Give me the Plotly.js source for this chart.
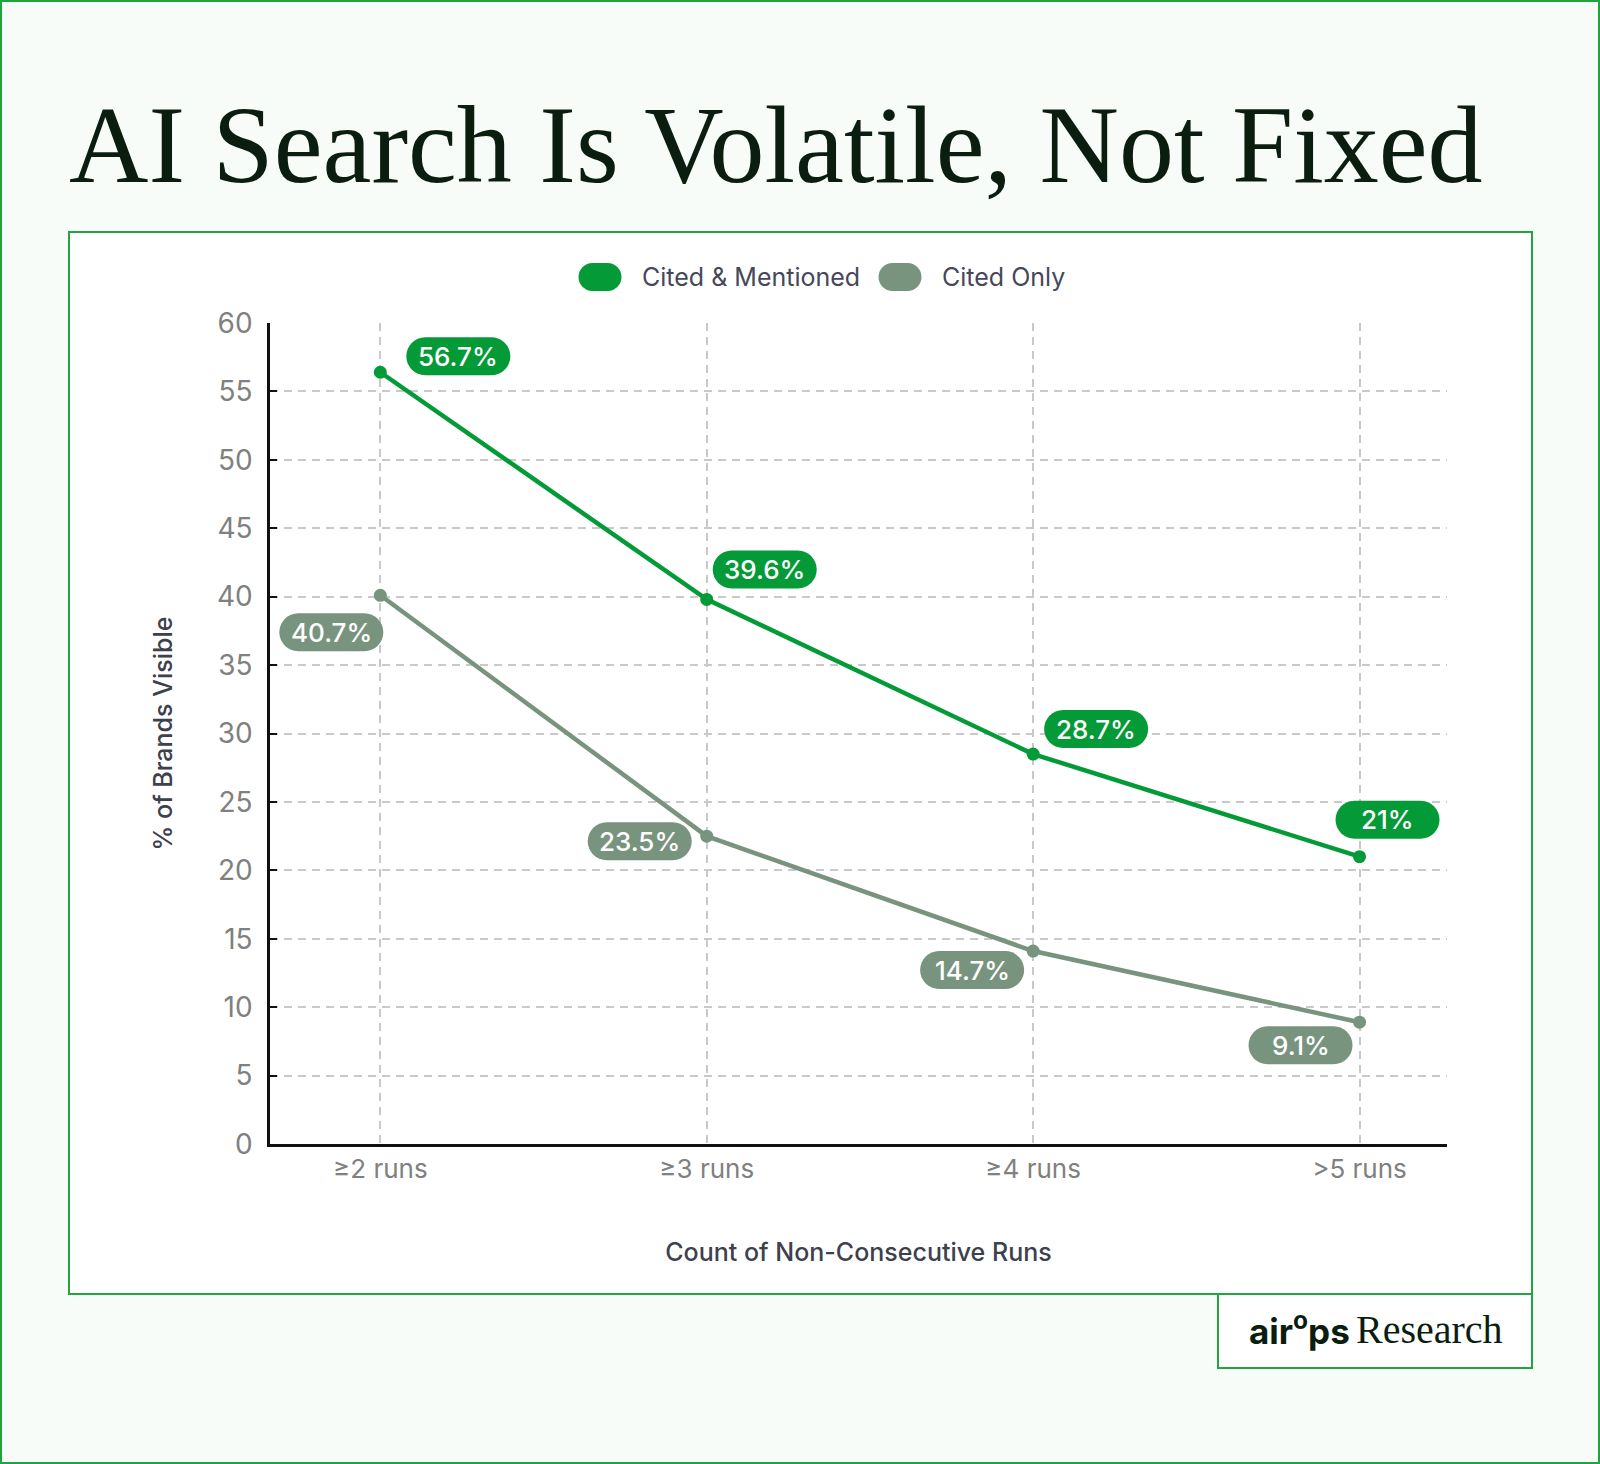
<!DOCTYPE html>
<html>
<head>
<meta charset="utf-8">
<script src="https://cdn.plot.ly/plotly-3.0.1.min.js"></script>
<style>
  html, body { margin: 0; padding: 0; background: #f7fcf9; }
  #myDiv { width: 1600px; height: 1464px; }
</style>
</head>
<body>
<div id="myDiv"></div>
<script>
// x categories
var runs = ['≥2 runs', '≥3 runs', '≥4 runs', '>5 runs'];

// point heights
var citedMentioned = [56.4, 39.8, 28.5, 21.0];
var citedOnly = [40.1, 22.5, 14.1, 8.9];

// text shown in the badges
var citedMentionedLabels = ['56.7%', '39.6%', '28.7%', '21%'];
var citedOnlyLabels = ['40.7%', '23.5%', '14.7%', '9.1%'];

// badge offsets from their point, screen px [dx, dy]
var citedMentionedOffsets = [[78, -16], [58, -30], [63, -25], [28, -37]];
var citedOnlyOffsets = [[-49, 37], [-67, 5], [-61, 19], [-59, 23]];

var GREEN = '#039a37';
var SAGE = '#78947e';
var W = 1600, H = 1464;
var M = {l: 270, r: 153, t: 323, b: 320};
var PW = W - M.l - M.r, PH = H - M.t - M.b;

// page px -> paper fraction
function px(x) { return (x - M.l) / PW; }
function py(y) { return (H - M.b - y) / PH; }

// rounded pill path in pixels around (dx, dy) (dy is screen-down)
function pillPath(dx, dy, w, h) {
  var r = h / 2, k = 0.5523 * r;
  var x0 = dx - w / 2, x1 = dx + w / 2;
  var yT = -dy + h / 2, yB = -dy - h / 2, yM = -dy;
  return 'M' + (x0 + r) + ',' + yT +
    ' L' + (x1 - r) + ',' + yT +
    ' C' + (x1 - r + k) + ',' + yT + ' ' + x1 + ',' + (yM + k) + ' ' + x1 + ',' + yM +
    ' C' + x1 + ',' + (yM - k) + ' ' + (x1 - r + k) + ',' + yB + ' ' + (x1 - r) + ',' + yB +
    ' L' + (x0 + r) + ',' + yB +
    ' C' + (x0 + r - k) + ',' + yB + ' ' + x0 + ',' + (yM - k) + ' ' + x0 + ',' + yM +
    ' C' + x0 + ',' + (yM + k) + ' ' + (x0 + r - k) + ',' + yT + ' ' + (x0 + r) + ',' + yT + ' Z';
}

function boxShape(x0, y0, x1, y1, fill, lineColor) {
  return {
    type: 'rect', xref: 'paper', yref: 'paper', layer: 'below',
    x0: px(x0), x1: px(x1), y0: py(y0), y1: py(y1),
    fillcolor: fill, line: {color: lineColor, width: 2}
  };
}

var shapes = [
  boxShape(1, 1, 1599, 1463, 'rgba(0,0,0,0)', '#1ea53e'),
  boxShape(69, 232, 1532, 1294, '#ffffff', '#22a540'),
  boxShape(1218, 1294, 1532, 1368, '#ffffff', '#22a540')
];
var annotations = [];

function addBadges(values, labels, offsets, color) {
  values.forEach(function(v, i) {
    shapes.push({
      type: 'path', xref: 'x', yref: 'y', layer: 'above',
      xsizemode: 'pixel', ysizemode: 'pixel',
      xanchor: runs[i], yanchor: v,
      path: pillPath(offsets[i][0], offsets[i][1], 104, 38),
      fillcolor: color, line: {width: 0}
    });
    annotations.push({
      x: runs[i], y: v, xref: 'x', yref: 'y', showarrow: false,
      xshift: offsets[i][0], yshift: -offsets[i][1],
      text: labels[i],
      font: {family: 'Inter, Roboto, sans-serif', size: 26, color: '#ffffff', weight: 500}
    });
  });
}
addBadges(citedMentioned, citedMentionedLabels, citedMentionedOffsets, GREEN);
addBadges(citedOnly, citedOnlyLabels, citedOnlyOffsets, SAGE);

// legend drawn by hand so the swatches can be pills
function legendItem(cx, textX, color, name) {
  shapes.push({
    type: 'path', xref: 'paper', yref: 'paper',
    xsizemode: 'pixel', ysizemode: 'pixel',
    xanchor: px(cx), yanchor: py(277),
    path: pillPath(0, 0, 43, 28),
    fillcolor: color, line: {width: 0}
  });
  annotations.push({
    xref: 'paper', yref: 'paper', x: px(textX), y: py(277),
    xanchor: 'left', yanchor: 'middle', showarrow: false,
    text: name,
    font: {family: 'Inter, Roboto, sans-serif', size: 25, color: '#45485a'}
  });
}
legendItem(600, 640, GREEN, 'Cited &amp; Mentioned');
legendItem(900, 940, SAGE, 'Cited Only');

// airops Research mark
annotations.push({
  xref: 'paper', yref: 'paper', x: px(1352), y: py(1354),
  xanchor: 'right', yanchor: 'bottom', showarrow: false,
  text: '<b>air<sup>o</sup>ps</b>',
  font: {family: 'Inter, Roboto, sans-serif', size: 35, color: '#0b1d0f'}
});
annotations.push({
  xref: 'paper', yref: 'paper', x: px(1354), y: py(1354),
  xanchor: 'left', yanchor: 'bottom', showarrow: false,
  text: 'Research',
  font: {family: 'Liberation Serif, serif', size: 40, color: '#0b1d0f'}
});

var cited_mentioned = {
  x: runs,
  y: citedMentioned,
  type: 'scatter',
  mode: 'lines+markers',
  name: 'Cited & Mentioned',
  line: {color: GREEN, width: 4.5},
  marker: {color: GREEN, size: 13},
  cliponaxis: false,
  hoverinfo: 'skip'
};
var cited_only = {
  x: runs,
  y: citedOnly,
  type: 'scatter',
  mode: 'lines+markers',
  name: 'Cited Only',
  line: {color: SAGE, width: 4.5},
  marker: {color: SAGE, size: 13},
  cliponaxis: false,
  hoverinfo: 'skip'
};

var gridStyle = {
  showgrid: true,
  gridcolor: '#c9c9c9',
  gridwidth: 1.5,
  griddash: '8px,6px',
  zeroline: false,
  showline: true,
  linecolor: '#111111',
  linewidth: 2.5
};

var layout = {
  width: W,
  height: H,
  margin: M,
  paper_bgcolor: '#f7fcf9',
  plot_bgcolor: 'rgba(0,0,0,0)',
  showlegend: false,
  font: {family: 'Inter, Roboto, sans-serif'},
  title: {
    text: 'AI Search Is Volatile, Not Fixed',
    font: {family: 'Liberation Serif, serif', size: 110, color: '#0b1d0f'},
    xref: 'container', yref: 'container',
    x: 69 / W, xanchor: 'left',
    y: 1 - 143 / H, yanchor: 'middle'
  },
  xaxis: Object.assign({}, gridStyle, {
    type: 'category',
    range: [-0.338, 3.268],
    ticks: '',
    ticklabelstandoff: 0,
    tickfont: {size: 26, color: '#808080'},
    title: {
      text: 'Count of Non-Consecutive Runs',
      font: {size: 25, color: '#3d404d', weight: 500},
      standoff: 61
    }
  }),
  yaxis: Object.assign({}, gridStyle, {
    range: [0, 60],
    tick0: 0,
    dtick: 5,
    ticks: 'inside',
    ticklen: 7,
    tickwidth: 2,
    tickcolor: '#111111',
    ticklabelstandoff: 9,
    tickfont: {size: 28, color: '#808080'},
    title: {
      text: '% of Brands Visible',
      font: {size: 25, color: '#3d404d', weight: 500},
      standoff: 38
    }
  }),
  shapes: shapes,
  annotations: annotations
};

Plotly.newPlot('myDiv', [cited_mentioned, cited_only], layout, {displayModeBar: false});
</script>
</body>
</html>
